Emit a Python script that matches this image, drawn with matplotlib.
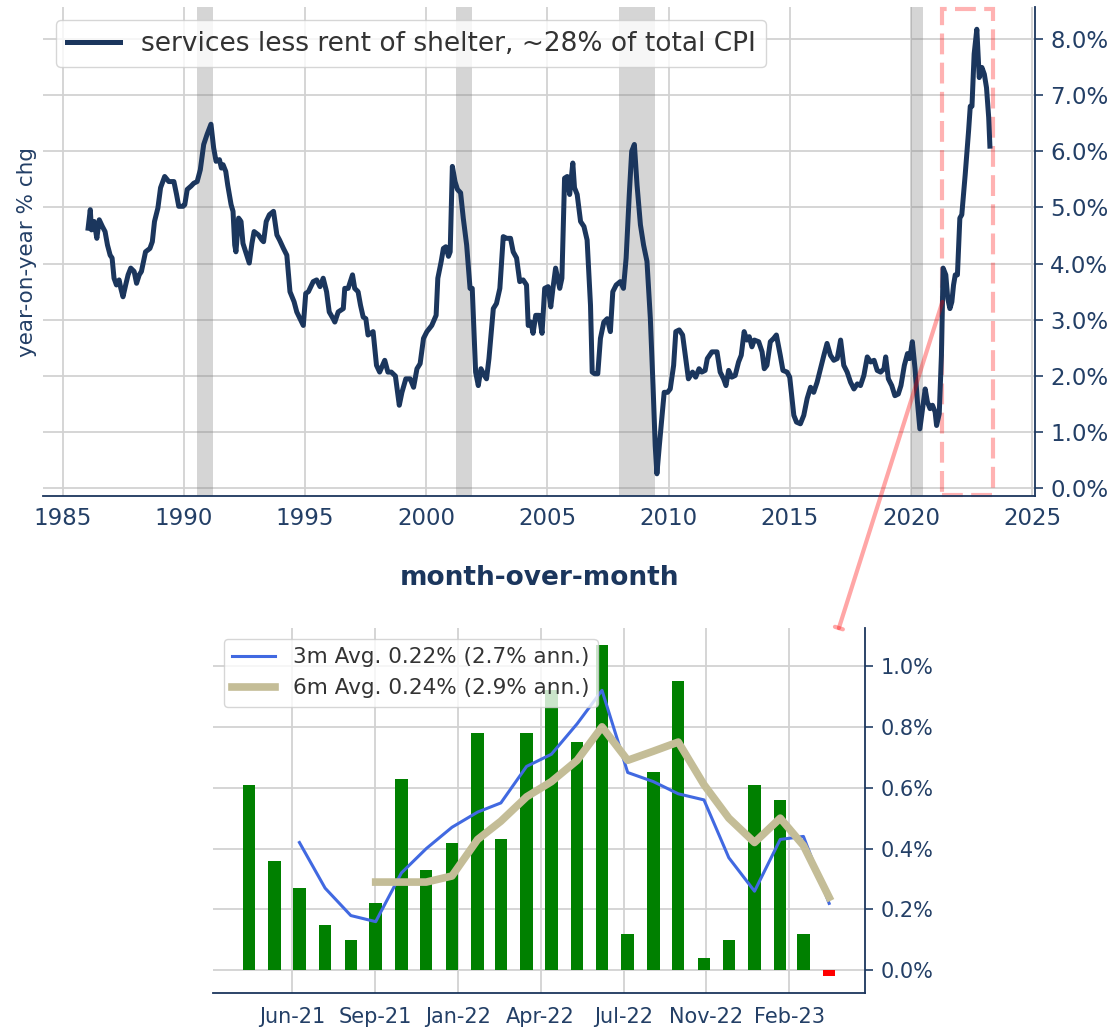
import datetime as dt
import matplotlib
matplotlib.use('Agg')
import matplotlib.pyplot as plt
import matplotlib.dates as mdates
from matplotlib.ticker import MultipleLocator, FuncFormatter
from matplotlib.patches import Rectangle, ConnectionPatch

# year-on-year % chg (decimal year, value)
yoy_t = [1986.05, 1986.14, 1986.19, 1986.30, 1986.41, 1986.51, 1986.64, 1986.75, 1986.85, 1986.96,
         1987.04, 1987.12, 1987.22, 1987.33, 1987.40, 1987.49, 1987.60, 1987.70, 1987.81, 1987.95,
         1988.05, 1988.16, 1988.25, 1988.42, 1988.60, 1988.70, 1988.79, 1988.93, 1989.04, 1989.21,
         1989.38, 1989.59, 1989.70, 1989.79, 1989.97, 1990.04, 1990.14, 1990.30, 1990.41, 1990.55,
         1990.68, 1990.82, 1990.96, 1991.12, 1991.23, 1991.33, 1991.47, 1991.55, 1991.62, 1991.73,
         1991.81, 1991.95, 1992.03, 1992.10, 1992.15, 1992.26, 1992.36, 1992.44, 1992.70, 1992.81,
         1992.90, 1993.08, 1993.22, 1993.29, 1993.40, 1993.53, 1993.70, 1993.84, 1993.95, 1994.11,
         1994.25, 1994.38, 1994.55, 1994.66, 1994.86, 1994.93, 1995.03, 1995.14, 1995.34, 1995.48,
         1995.62, 1995.75, 1995.89, 1996.00, 1996.16, 1996.23, 1996.37, 1996.58, 1996.64, 1996.78,
         1996.96, 1997.05, 1997.19, 1997.29, 1997.40, 1997.51, 1997.60, 1997.81, 1997.95, 1998.08,
         1998.29, 1998.42, 1998.56, 1998.73, 1998.89, 1999.00, 1999.16, 1999.34, 1999.48, 1999.62,
         1999.75, 1999.89, 2000.03, 2000.23, 2000.41, 2000.48, 2000.62, 2000.71, 2000.81, 2000.92,
         2000.99, 2001.08, 2001.19, 2001.29, 2001.42, 2001.53, 2001.67, 2001.81, 2001.90, 2002.04,
         2002.15, 2002.26, 2002.40, 2002.49, 2002.59, 2002.77, 2002.90, 2003.04, 2003.18, 2003.32,
         2003.48, 2003.59, 2003.73, 2003.86, 2004.00, 2004.14, 2004.21, 2004.32, 2004.41, 2004.52,
         2004.66, 2004.78, 2004.89, 2005.03, 2005.14, 2005.23, 2005.34, 2005.51, 2005.60, 2005.71,
         2005.82, 2005.92, 2006.05, 2006.12, 2006.23, 2006.37, 2006.51, 2006.64, 2006.78, 2006.85,
         2006.95, 2007.08, 2007.19, 2007.33, 2007.47, 2007.60, 2007.70, 2007.84, 2008.01, 2008.14,
         2008.25, 2008.38, 2008.48, 2008.59, 2008.70, 2008.84, 2008.97, 2009.11, 2009.25, 2009.36,
         2009.45, 2009.52, 2009.62, 2009.71, 2009.82, 2009.96, 2010.07, 2010.21, 2010.30, 2010.44,
         2010.58, 2010.71, 2010.82, 2010.99, 2011.12, 2011.26, 2011.37, 2011.51, 2011.60, 2011.79,
         2012.00, 2012.13, 2012.27, 2012.37, 2012.48, 2012.61, 2012.75, 2012.89, 2013.00, 2013.12,
         2013.23, 2013.33, 2013.44, 2013.54, 2013.72, 2013.86, 2013.95, 2014.06, 2014.20, 2014.34,
         2014.45, 2014.61, 2014.72, 2014.89, 2015.00, 2015.17, 2015.28, 2015.44, 2015.58, 2015.72,
         2015.86, 2015.99, 2016.13, 2016.27, 2016.41, 2016.54, 2016.68, 2016.82, 2016.96, 2017.10,
         2017.23, 2017.37, 2017.51, 2017.65, 2017.79, 2017.92, 2018.06, 2018.20, 2018.34, 2018.48,
         2018.61, 2018.75, 2018.89, 2018.96, 2019.07, 2019.21, 2019.34, 2019.48, 2019.59, 2019.73,
         2019.86, 2019.95, 2020.06, 2020.17, 2020.27, 2020.37, 2020.48, 2020.59, 2020.68, 2020.79,
         2020.89, 2021.00, 2021.06, 2021.17, 2021.26, 2021.33, 2021.44, 2021.52, 2021.61, 2021.69,
         2021.76, 2021.83, 2021.92, 2022.02, 2022.10, 2022.24, 2022.38, 2022.45, 2022.52, 2022.61,
         2022.72, 2022.77, 2022.82, 2022.93, 2023.03, 2023.12, 2023.21, 2023.26]
yoy_v = [4.63, 4.96, 4.60, 4.75, 4.45, 4.78, 4.66, 4.57, 4.33, 4.15,
         4.10, 3.74, 3.62, 3.71, 3.56, 3.41, 3.62, 3.80, 3.92, 3.86,
         3.65, 3.80, 3.86, 4.21, 4.27, 4.39, 4.75, 4.99, 5.35, 5.55,
         5.46, 5.46, 5.23, 5.02, 5.02, 5.05, 5.32, 5.38, 5.43, 5.46,
         5.67, 6.12, 6.30, 6.48, 6.06, 5.82, 5.85, 5.70, 5.76, 5.64,
         5.40, 5.05, 4.93, 4.33, 4.21, 4.81, 4.75, 4.36, 4.01, 4.36,
         4.57, 4.51, 4.42, 4.39, 4.75, 4.87, 4.93, 4.51, 4.42, 4.27,
         4.15, 3.50, 3.32, 3.14, 2.96, 2.90, 3.47, 3.50, 3.68, 3.71,
         3.59, 3.74, 3.50, 3.14, 3.02, 2.96, 3.14, 3.20, 3.56, 3.56,
         3.80, 3.56, 3.50, 3.26, 3.05, 3.02, 2.73, 2.79, 2.19, 2.07,
         2.28, 2.07, 2.07, 2.00, 1.48, 1.71, 1.95, 1.95, 1.80, 2.13,
         2.22, 2.67, 2.79, 2.90, 3.08, 3.74, 4.04, 4.27, 4.30, 4.13,
         4.21, 5.73, 5.46, 5.32, 5.26, 4.81, 4.33, 3.56, 3.56, 2.07,
         1.83, 2.13, 2.01, 1.95, 2.31, 3.20, 3.29, 3.56, 4.48, 4.45,
         4.45, 4.21, 4.10, 3.68, 3.71, 3.62, 2.90, 2.96, 2.76, 3.08,
         3.08, 2.76, 3.56, 3.59, 3.23, 3.56, 3.92, 3.56, 3.74, 5.52,
         5.55, 5.23, 5.79, 5.35, 5.23, 4.75, 4.66, 4.42, 3.26, 2.07,
         2.04, 2.04, 2.67, 2.96, 3.02, 2.79, 3.50, 3.62, 3.68, 3.56,
         4.10, 5.23, 6.00, 6.12, 5.40, 4.69, 4.33, 4.04, 3.02, 1.83,
         0.76, 0.26, 0.76, 1.18, 1.71, 1.71, 1.77, 2.19, 2.79, 2.82,
         2.73, 2.31, 1.95, 2.07, 1.98, 2.13, 2.07, 2.10, 2.31, 2.43,
         2.43, 2.07, 1.95, 1.83, 2.10, 1.98, 2.01, 2.25, 2.37, 2.79,
         2.64, 2.70, 2.52, 2.64, 2.61, 2.43, 2.13, 2.19, 2.61, 2.67,
         2.73, 2.37, 2.10, 2.07, 1.98, 1.30, 1.18, 1.15, 1.30, 1.60,
         1.80, 1.71, 1.89, 2.13, 2.37, 2.58, 2.37, 2.28, 2.31, 2.64,
         2.19, 2.07, 1.89, 1.77, 1.86, 1.83, 2.01, 2.34, 2.25, 2.28,
         2.10, 2.07, 2.13, 2.34, 1.95, 1.83, 1.65, 1.68, 1.83, 2.19,
         2.40, 2.31, 2.61, 2.13, 1.54, 1.06, 1.42, 1.77, 1.54, 1.42,
         1.48, 1.36, 1.12, 1.33, 2.37, 3.92, 3.80, 3.38, 3.20, 3.32,
         3.62, 3.80, 3.80, 4.81, 4.87, 5.58, 6.36, 6.80, 6.80, 7.73,
         8.17, 7.73, 7.31, 7.49, 7.37, 7.13, 6.60, 6.09]

# recessions (start, end) in decimal years
rec_start = [1990.55, 2001.23, 2007.95, 2020.0]
rec_end = [1991.2, 2001.88, 2009.45, 2020.5]

# month-over-month %, May-21 .. Apr-23
mom_dates = [dt.datetime(2021 + (4 + i) // 12, (4 + i) % 12 + 1, 1) for i in range(24)]
mom_vals = [0.61, 0.36, 0.27, 0.15, 0.10, 0.22, 0.63, 0.33, 0.42, 0.78, 0.43, 0.78,
            0.92, 0.75, 1.07, 0.12, 0.65, 0.95, 0.04, 0.10, 0.61, 0.56, 0.12, -0.02]
avg3 = [0.42, 0.27, 0.18, 0.16, 0.32, 0.40, 0.47, 0.52, 0.55, 0.67, 0.71,
        0.81, 0.92, 0.65, 0.62, 0.58, 0.56, 0.37, 0.26, 0.43, 0.44, 0.22]
avg6 = [0.29, 0.29, 0.29, 0.31, 0.43, 0.49, 0.57, 0.62, 0.69, 0.80,
        0.69, 0.72, 0.75, 0.61, 0.50, 0.42, 0.50, 0.41, 0.24]

navy = '#1b365d'
txt = '#233f66'
gridc = '#d2d2d2'

fig = plt.figure(figsize=(11.2, 10.33), dpi=100)

# yoy chart
ax = fig.add_axes([0.0384, 0.5198, 0.8857, 0.4734])
ax.set_axisbelow(True)
ax.grid(True, color=gridc, lw=1.3)
ax.plot(yoy_t, yoy_v, color=navy, lw=3.6, label='services less rent of shelter, ~28% of total CPI')
for a, b in zip(rec_start, rec_end):
    ax.axvspan(a, b, color='grey', alpha=0.33, lw=0)
# zoom box (added as artist so it does not move the limits)
box = Rectangle((2021.3, -0.12), 2.07, 8.65, fill=False, ec='red', alpha=0.3,
                lw=3, ls=(0, (5, 2)), clip_on=False, transform=ax.transData)
ax.add_artist(box)
ax.yaxis.tick_right()
ax.yaxis.set_major_locator(MultipleLocator(1))
ax.yaxis.set_major_formatter(FuncFormatter(lambda v, p: f'{v:.1f}%'))
ax.set_ylabel('year-on-year % chg', fontsize=15.5, color=txt)
ax.tick_params(axis='y', labelsize=16.5, colors=txt, length=6, width=1.2, pad=5)
ax.tick_params(axis='x', labelsize=16.5, colors=txt, length=0, pad=8)
for s in ['left', 'top']:
    ax.spines[s].set_visible(False)
for s in ['right', 'bottom']:
    ax.spines[s].set_color(navy)
    ax.spines[s].set_linewidth(1.3)
leg = ax.legend(loc='upper left', fontsize=19, framealpha=0.8)
for t in leg.get_texts():
    t.set_color('#333333')

# month-over-month chart
ax2 = fig.add_axes([0.1902, 0.0387, 0.5821, 0.3533])
ax2.set_axisbelow(True)
ax2.grid(True, color=gridc, lw=1.3)
xd = mdates.date2num(mom_dates)
cols = ['green' if v >= 0 else 'red' for v in mom_vals]
ax2.bar(xd, mom_vals, width=15, color=cols)
ax2.plot(xd[2:], avg3, color='royalblue', lw=2.2, label='3m Avg. 0.22% (2.7% ann.)')
ax2.plot(xd[5:], avg6, color='#c4bd97', lw=5.5, label='6m Avg. 0.24% (2.9% ann.)')
ax2.xaxis.set_major_locator(MultipleLocator(100))
ax2.xaxis.set_major_formatter(mdates.DateFormatter('%b-%y'))
ax2.yaxis.tick_right()
ax2.yaxis.set_major_locator(MultipleLocator(0.2))
ax2.yaxis.set_major_formatter(FuncFormatter(lambda v, p: f'{v:.1f}%'))
ax2.tick_params(axis='y', labelsize=15, colors=txt, length=6, width=1.2, pad=5)
ax2.tick_params(axis='x', labelsize=15, colors=txt, length=0, pad=10)
for s in ['left', 'top']:
    ax2.spines[s].set_visible(False)
for s in ['right', 'bottom']:
    ax2.spines[s].set_color(navy)
    ax2.spines[s].set_linewidth(1.3)
ax2.set_title('month-over-month', fontsize=19, fontweight='bold', color=navy, pad=31)
leg2 = ax2.legend(loc='upper left', fontsize=15.5, framealpha=0.8)
for t in leg2.get_texts():
    t.set_color('#333333')

con = ConnectionPatch(xyA=(2021.3, 3.32), coordsA=ax.transData,
                      xyB=(0.96, 1.0), coordsB=ax2.transAxes,
                      arrowstyle='-[, widthB=0.3, lengthB=0.0',
                      color='red', alpha=0.35, lw=3)
fig.add_artist(con)

fig.savefig('out.png', dpi=100)
